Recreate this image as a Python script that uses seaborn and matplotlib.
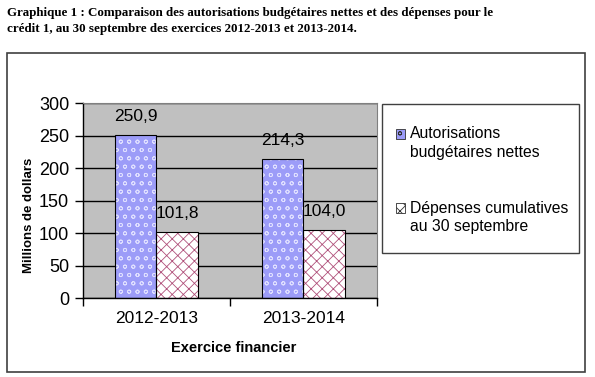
import pandas as pd
import seaborn as sns
import matplotlib
import matplotlib.pyplot as plt
from matplotlib.patches import Rectangle, Patch
from matplotlib.legend_handler import HandlerPatch

exercices = ['2012-2013', '2013-2014']
series = ['Autorisations\nbudgétaires nettes', 'Dépenses cumulatives\nau 30 septembre']
autorisations = [250.9, 214.3]
depenses = [101.8, 104.0]
value_labels = ['250,9', '214,3', '101,8', '104,0']
yticks = [0, 50, 100, 150, 200, 250, 300]

title = ('Graphique 1 : Comparaison des autorisations budgétaires nettes et des dépenses pour le\n'
         'crédit 1, au 30 septembre des exercices 2012-2013 et 2013-2014.')

df = pd.DataFrame({
    'exercice': exercices * 2,
    'serie': [series[0]] * 2 + [series[1]] * 2,
    'valeur': autorisations + depenses,
})

matplotlib.rcParams['font.family'] = ['Liberation Sans', 'DejaVu Sans']
matplotlib.rcParams['hatch.linewidth'] = 0.6

fills = ['#9c9cf8', 'white']
hatch_cols = ['#e0e0ff', '#b0507a']
hatches = ['oo', 'xxx']

fig = plt.figure(figsize=(5.95, 3.77), dpi=100)
fig.patches.append(Rectangle((0.0118, 0.0133), 0.971, 0.846, transform=fig.transFigure,
                             fill=False, edgecolor='#404040', linewidth=1.2))
fig.text(0.012, 0.982, title, family=['Liberation Serif', 'DejaVu Serif'], weight='bold',
         fontsize=9.4, va='top', ha='left', linespacing=1.45)

ax = fig.add_axes([0.1395, 0.2095, 0.4941, 0.5172])
sns.barplot(data=df, x='exercice', y='valeur', hue='serie', order=exercices,
            hue_order=series, width=0.57, gap=0, ax=ax, legend=False, errorbar=None)

# fill + hatch per series, then a black outline on top
for i, bar in enumerate(ax.patches[:4]):
    s = i // 2
    bar.set_facecolor(fills[s])
    bar.set_edgecolor(hatch_cols[s])
    bar.set_hatch(hatches[s])
    bar.set_linewidth(0)
    ax.add_patch(Rectangle(bar.get_xy(), bar.get_width(), bar.get_height(),
                           fill=False, edgecolor='black', linewidth=0.8, zorder=3))
    ax.annotate(value_labels[i], (bar.get_x() + bar.get_width() / 2, bar.get_height()),
                xytext=(0, 8), textcoords='offset points', ha='center', va='bottom',
                fontsize=12.5)

ax.set_facecolor('#c0c0c0')
ax.set_axisbelow(True)
ax.set_ylim(0, 300)
ax.set_xlim(-0.5, 1.5)
ax.set_yticks(yticks)
ax.yaxis.grid(True, color='black', linewidth=1)
ax.tick_params(axis='y', labelsize=13, length=6, width=1, direction='out', pad=4)
ax.tick_params(axis='x', which='major', labelsize=12.5, length=0, pad=9)
ax.set_xticks([-0.5, 0.5, 1.5], minor=True)
ax.tick_params(axis='x', which='minor', length=6, width=1, direction='out')
ax.set_xlabel('')
ax.set_ylabel('')
for side in ['top', 'right']:
    ax.spines[side].set_color('#808080')
for side in ['left', 'bottom']:
    ax.spines[side].set_color('black')
    ax.spines[side].set_linewidth(1)

fig.text(0.048, 0.43, 'Millions de dollars', rotation=90, weight='bold', fontsize=9.5,
         ha='center', va='center')
fig.text(0.392, 0.077, 'Exercice financier', weight='bold', fontsize=10.5,
         ha='center', va='center')


# legend square sits level with the first text line, as in the original
def top_square(legend, orig_handle, xdescent, ydescent, width, height, fontsize):
    return Rectangle((-xdescent, -ydescent + 0.62 * fontsize), width, height)


fig.patches.append(Rectangle((0.642, 0.329), 0.331, 0.395, transform=fig.transFigure,
                             fill=False, edgecolor='#404040', linewidth=1))
handles = [Patch(facecolor=fills[k], edgecolor=hatch_cols[k], hatch=hatches[k], linewidth=0)
           for k in range(2)]
leg = fig.legend(handles, series, loc='upper left', bbox_to_anchor=(0.652, 0.686),
                 frameon=False, fontsize=11.3, handlelength=0.6, handleheight=0.6,
                 handletextpad=0.3, labelspacing=2.6, borderpad=0,
                 handler_map={Patch: HandlerPatch(patch_func=top_square)})
for t in leg.get_texts():
    t.set_linespacing(1.3)
for h in leg.legend_handles:
    h.set_edgecolor('#303030')
    h.set_linewidth(0.6)

fig.savefig('out.png', dpi=100)
